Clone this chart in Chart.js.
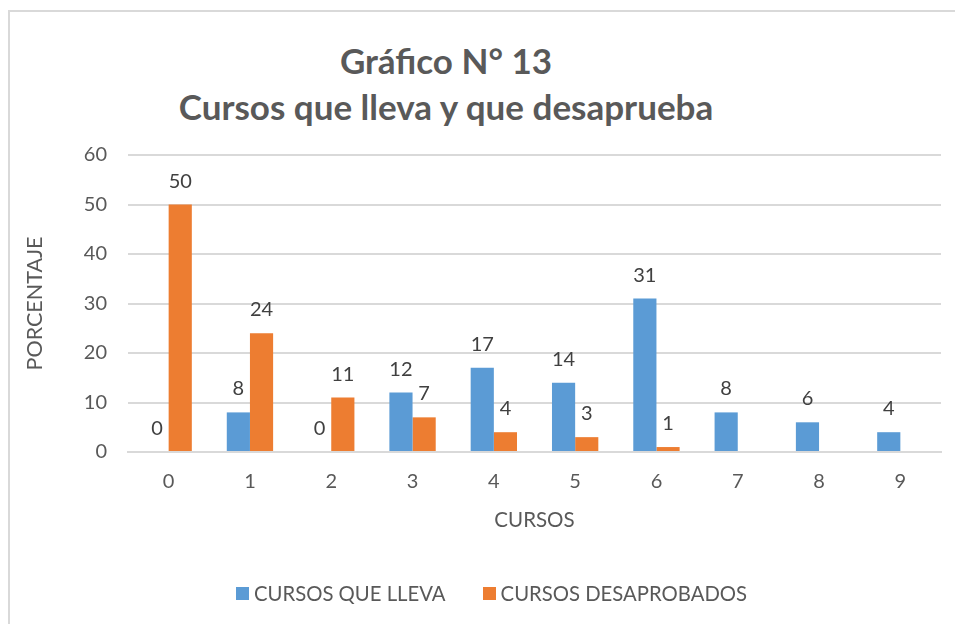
<!DOCTYPE html>
<html>
<head>
<meta charset="utf-8">
<script src="https://cdn.jsdelivr.net/npm/chart.js@4.4.1/dist/chart.umd.min.js"></script>
<style>
  html, body { margin: 0; padding: 0; background: #fff; }
  body { width: 955px; height: 624px; position: relative; overflow: hidden; font-family: Lato, sans-serif; }
  #frame { position: absolute; left: 8px; top: 10px; width: 1000px; height: 700px; border: 2px solid #d9d9d9; box-sizing: border-box; }
  #wrap { position: absolute; left: 0; top: 0; width: 955px; height: 624px; }
  .title { position: absolute; left: 0; width: 892px; text-align: center; color: #595959; font-weight: bold; font-size: 35px; line-height: 1; }
  #legend { position: absolute; left: 236px; top: 581px; display: flex; align-items: center; color: #595959; font-size: 20.3px; }
  #legend span.box { display: inline-block; width: 13px; height: 13px; margin-right: 5px; }
  #legend .item { display: flex; align-items: center; margin-right: 37px; }
</style>
</head>
<body>
<div id="frame"></div>
<div class="title" style="top:43px">Gráfico N° 13</div>
<div class="title" style="top:89px">Cursos que lleva y que desaprueba</div>
<div id="wrap"><canvas id="chart" width="955" height="624"></canvas></div>
<div id="legend"></div>
<script>
// ------------------- Data -------------------
const categories = ['0', '1', '2', '3', '4', '5', '6', '7', '8', '9'];
const seriesNames = ['CURSOS QUE LLEVA', 'CURSOS DESAPROBADOS'];
const cursosQueLleva = [0, 8, 0, 12, 17, 14, 31, 8, 6, 4];
const cursosDesaprobados = [50, 24, 11, 7, 4, 3, 1, null, null, null];
const yTicks = [0, 10, 20, 30, 40, 50, 60];

const blue = '#5b9bd5';
const orange = '#ed7d31';
const grey = '#595959';

// ------------------- Value labels over bars -------------------
const barLabels = {
    id: 'barLabels',
    afterDatasetsDraw(chart) {
        const ctx = chart.ctx;
        ctx.save();
        ctx.font = '20px Lato, sans-serif';
        ctx.fillStyle = '#404040';
        ctx.textAlign = 'center';
        ctx.textBaseline = 'alphabetic';
        chart.data.datasets.forEach((ds, i) => {
            chart.getDatasetMeta(i).data.forEach((bar, j) => {
                const v = ds.data[j];
                if (v === null || v === undefined) return;
                ctx.fillText(String(v), bar.x, bar.y - 17);
            });
        });
        ctx.restore();
    }
};

// ------------------- Chart -------------------
new Chart(document.getElementById('chart'), {
    type: 'bar',
    data: {
        labels: categories,
        datasets: [
            { label: seriesNames[0], data: cursosQueLleva, backgroundColor: blue },
            { label: seriesNames[1], data: cursosDesaprobados, backgroundColor: orange }
        ]
    },
    options: {
        responsive: false,
        animation: false,
        events: [],
        categoryPercentage: 0.57,
        barPercentage: 1.0,
        layout: { padding: { top: 155, right: 14, bottom: 82, left: 0 } },
        plugins: {
            legend: { display: false },
            tooltip: { enabled: false },
            title: { display: false }
        },
        scales: {
            x: {
                grid: { display: false, drawTicks: false },
                border: { display: true, color: '#d9d9d9', width: 2 },
                ticks: { color: grey, font: { family: 'Lato', size: 20 }, padding: 18 },
                title: { display: true, text: 'CURSOS', color: grey, font: { family: 'Lato', size: 20.5 }, padding: { top: 0, bottom: 9 } },
                afterFit(scale) { scale.height = 90; }
            },
            y: {
                min: 0,
                max: 60,
                afterBuildTicks(scale) { scale.ticks = yTicks.map(v => ({ value: v })); },
                grid: { color: '#d9d9d9', lineWidth: 2, drawTicks: false },
                border: { display: false },
                ticks: { color: grey, font: { family: 'Lato', size: 20 }, padding: 21 },
                title: { display: true, text: 'PORCENTAJE', color: grey, font: { family: 'Lato', size: 21.5 }, padding: { top: 22 } },
                afterFit(scale) { scale.width = 128; }
            }
        }
    },
    plugins: [barLabels]
});

// ------------------- Legend -------------------
const legend = document.getElementById('legend');
legend.innerHTML = seriesNames.map((name, i) => `
    <div class="item"><span class="box" style="background:${[blue, orange][i]}"></span>${name}</div>
`).join('');
</script>
</body>
</html>
